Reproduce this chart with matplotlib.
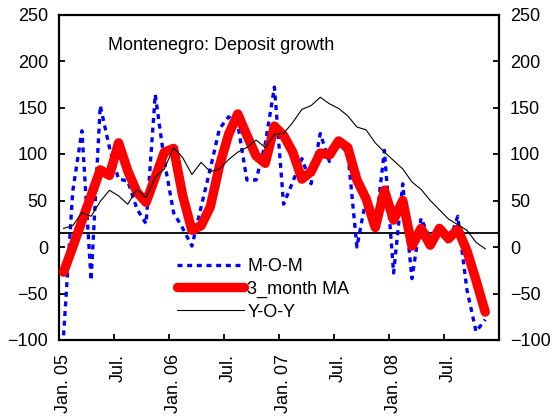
import numpy as np
import matplotlib
matplotlib.use('Agg')
import matplotlib.pyplot as plt

plt.rcParams['font.family'] = ['Liberation Sans', 'DejaVu Sans']

# monthly data, Jan 2005 .. Nov 2008
mom = [-95, 60, 125, -36, 152, 107, 73, 71, 41, 25, 164, 92,
       37, 20, 1, 43, 84, 127, 140, 132, 72, 72, 111, 172,
       46, 70, 95, 68, 122, 92, 110, 102, 0, 52, 18, 104,
       -28, 68, -34, 31, 8, 22, 4, 33, -46, -91, -78]
ma3 = [-27, 0, 28, 55, 83, 77, 112, 82, 59, 48, 75, 102,
       106, 55, 18, 23, 43, 87, 121, 143, 120, 98, 90, 130,
       120, 102, 73, 81, 101, 99, 114, 107, 72, 52, 21, 61,
       29, 50, 1, 20, 2, 20, 9, 19, -4, -36, -70]
yoy = [20, 23, 37, 33, 49, 61, 55, 46, 62, 53, 75, 84,
       107, 96, 78, 91, 81, 84, 94, 102, 107, 115, 107, 121,
       122, 134, 148, 152, 161, 154, 149, 141, 129, 126, 112, 102,
       93, 84, 70, 62, 50, 40, 30, 24, 18, 5, -2]
tick_labels = ['Jan. 05', 'Jul.', 'Jan. 06', 'Jul.', 'Jan. 07', 'Jul.', 'Jan. 08', 'Jul.']
n_months = 48
ref_level = 15

x = np.arange(len(mom))

fig = plt.figure(figsize=(5.52, 4.18), dpi=100)
ax = fig.add_axes([59 / 552, 1 - 340 / 418, 440 / 552, 325.5 / 418])

ax.axhline(ref_level, color='black', lw=1.3, zorder=1)
ax.plot(x, mom, color='#0000FF', lw=2.4, linestyle=(0, (1.5, 1.4)), label='M-O-M', zorder=2)
ax.plot(x, ma3, color='#FF0000', lw=6.8, solid_joinstyle='round', solid_capstyle='round',
        label='3_month MA', zorder=3)
ax.plot(x, yoy, color='black', lw=0.8, label='Y-O-Y', zorder=4)

ax.set_xlim(-0.5, n_months - 0.5)
ax.set_ylim(-100, 250)
ax.set_yticks(np.arange(-100, 251, 50))

# ticks at category boundaries, labels at category centres
ax.set_xticks(np.arange(-0.5, n_months, 6))
ax.set_xticklabels([])
ax.set_xticks(np.arange(0, n_months, 6), minor=True)
ax.set_xticklabels(tick_labels, minor=True, rotation=90, fontsize=13)
ax.tick_params(axis='x', which='minor', length=0, pad=10)
ax.tick_params(axis='x', which='major', direction='in', length=4, width=1.3)
ax.tick_params(axis='y', direction='in', length=4, width=1.3, labelsize=13, pad=8,
               right=True, labelright=True)

for s in ax.spines.values():
    s.set_linewidth(1.6)

ax.text(0.112, 0.905, 'Montenegro: Deposit growth', transform=ax.transAxes,
        fontsize=13, va='center', ha='left')

ax.legend(loc='upper left', bbox_to_anchor=(177 / 552, 1 - 258 / 418),
          bbox_transform=fig.transFigure, frameon=False, fontsize=13,
          handlelength=3.7, handletextpad=0.2, borderpad=0, borderaxespad=0,
          labelspacing=0.32)

fig.savefig('out.png', dpi=100)
